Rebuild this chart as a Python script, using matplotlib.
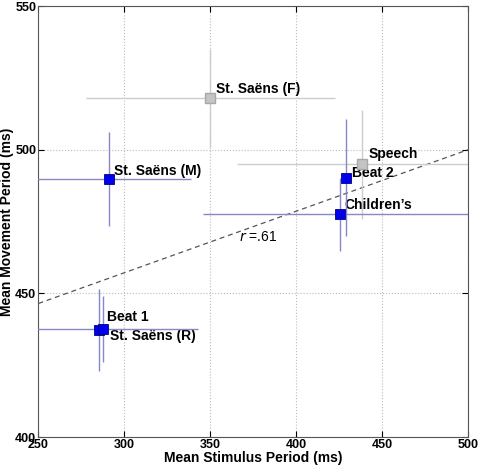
import matplotlib
matplotlib.use("Agg")
import matplotlib.pyplot as plt

plt.rcParams['font.family'] = ['Liberation Sans', 'DejaVu Sans']

# gray = full-tempo / speech stimuli, blue = the rest
gray_names = ["St. Saëns (F)", "Speech"]
gray_x = [350, 438.5]
gray_y = [518, 495]
gray_xerr = [72.5, 73]
gray_yerr = [17, 19]

blue_names = ["St. Saëns (M)", "Beat 2", "Children\u2019s", "Beat 1", "St. Saëns (R)"]
blue_x = [291, 429, 425.3, 285.4, 287.7]
blue_y = [489.7, 490.3, 477.5, 437.4, 437.6]
blue_xerr = [48, 0, 79.5, 0, 55]
blue_yerr = [16.4, 20.4, 12.6, 14.3, 11.5]

# label offsets (ms) from each point
gray_lab = [(3.5, 3), (3.5, 3.5)]
blue_lab = [(3, 3), (3.7, 1.7), (2.5, 3.2), (4.6, 4.5), (3.9, -2.5)]

fit_x = [250, 500]
fit_y = [446.5, 500]

fig = plt.figure(figsize=(4.8, 4.66), dpi=100)
ax = fig.add_axes([0.080, 0.062, 0.895, 0.925])

ax.errorbar(gray_x, gray_y, xerr=gray_xerr, yerr=gray_yerr, fmt='s',
            ms=7, mfc='#c4c4c4', mec='#a8a8a8', ecolor='#cccccc',
            elinewidth=1, capsize=0, zorder=3)
ax.errorbar(blue_x, blue_y, xerr=blue_xerr, yerr=blue_yerr, fmt='s',
            ms=6.5, mfc='#0000ee', mec='#000080', mew=0.6, ecolor='#8888c8',
            elinewidth=1, capsize=0, zorder=4)

ax.plot(fit_x, fit_y, ls=(0, (4, 3)), color='#555555', lw=0.9, zorder=2)
ax.text(367, 469.5, r'$r$ =.61', fontsize=10, va='center', ha='left')

for n, x, y, (dx, dy) in zip(gray_names, gray_x, gray_y, gray_lab):
    ax.text(x + dx, y + dy, n, fontsize=10, fontweight='bold', va='center')
for n, x, y, (dx, dy) in zip(blue_names, blue_x, blue_y, blue_lab):
    ax.text(x + dx, y + dy, n, fontsize=10, fontweight='bold', va='center')

ax.set_xlim(250, 500)
ax.set_ylim(400, 550)
ax.set_xticks([250, 300, 350, 400, 450, 500])
ax.set_yticks([400, 450, 500, 550])
ax.grid(True, ls=':', color='#bbbbbb', lw=0.8)
ax.tick_params(direction='in', top=True, right=True, labelsize=9, pad=1.5, length=4)
for lab in ax.get_xticklabels() + ax.get_yticklabels():
    lab.set_fontweight('bold')
for s in ax.spines.values():
    s.set_color('#555555')

ax.set_xlabel('Mean Stimulus Period (ms)', fontsize=10, fontweight='bold', labelpad=0)
ax.set_ylabel('Mean Movement Period (ms)', fontsize=10, fontweight='bold')
ax.yaxis.set_label_coords(-0.056, 0.5)

fig.savefig('out.png', dpi=100)
